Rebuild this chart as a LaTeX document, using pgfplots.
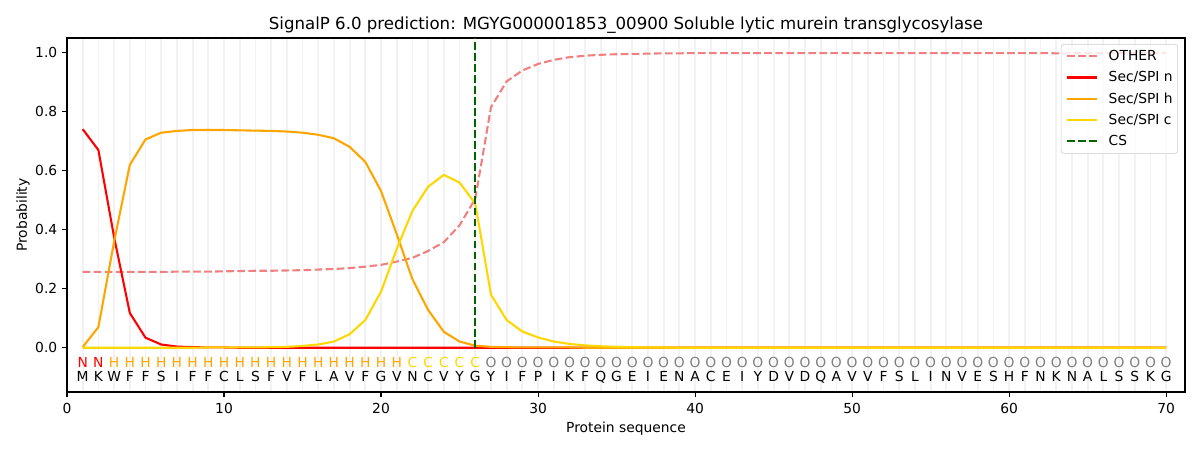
\documentclass[border=0pt]{standalone}
\usepackage{fontspec}
\setmainfont{DejaVu Sans}
\usepackage{pgfplots}
\pgfplotsset{compat=1.18}
\usepackage{pgfplotstable}
\definecolor{lightcoral}{HTML}{F08080}
\definecolor{mplorange}{HTML}{FFA500}
\definecolor{mplgold}{HTML}{FFD700}
\definecolor{darkgreen}{HTML}{006400}

\pgfplotstableread{
pos other n h c
1 0.257 0.741 0.002 0.000
2 0.257 0.670 0.070 0.000
3 0.257 0.375 0.360 0.000
4 0.257 0.118 0.620 0.000
5 0.257 0.034 0.706 0.000
6 0.257 0.011 0.729 0.000
7 0.258 0.004 0.735 0.000
8 0.258 0.002 0.738 0.000
9 0.258 0.001 0.738 0.001
10 0.259 0.001 0.738 0.001
11 0.260 0.000 0.737 0.001
12 0.261 0.000 0.736 0.001
13 0.261 0.000 0.735 0.002
14 0.262 0.000 0.733 0.003
15 0.263 0.000 0.729 0.006
16 0.265 0.000 0.722 0.011
17 0.267 0.000 0.710 0.021
18 0.270 0.000 0.681 0.046
19 0.275 0.000 0.630 0.094
20 0.281 0.000 0.531 0.190
21 0.292 0.000 0.385 0.335
22 0.305 0.000 0.232 0.464
23 0.328 0.000 0.128 0.546
24 0.358 0.000 0.054 0.586
25 0.415 0.000 0.021 0.560
26 0.505 0.000 0.007 0.489
27 0.815 0.000 0.003 0.180
28 0.903 0.000 0.002 0.094
29 0.940 0.000 0.001 0.055
30 0.962 0.000 0.001 0.035
31 0.976 0.000 0.001 0.021
32 0.985 0.000 0.001 0.013
33 0.990 0.000 0.000 0.008
34 0.993 0.000 0.000 0.005
35 0.995 0.000 0.000 0.003
36 0.996 0.000 0.000 0.002
37 0.997 0.000 0.000 0.001
38 0.998 0.000 0.000 0.001
39 0.998 0.000 0.000 0.000
40 0.999 0.000 0.000 0.000
41 0.999 0.000 0.000 0.000
42 0.999 0.000 0.000 0.000
43 0.999 0.000 0.000 0.000
44 0.999 0.000 0.000 0.000
45 0.999 0.000 0.000 0.000
46 0.999 0.000 0.000 0.000
47 0.999 0.000 0.000 0.000
48 0.999 0.000 0.000 0.000
49 0.999 0.000 0.000 0.000
50 0.999 0.000 0.000 0.000
51 0.999 0.000 0.000 0.000
52 0.999 0.000 0.000 0.000
53 0.999 0.000 0.000 0.000
54 0.999 0.000 0.000 0.000
55 0.999 0.000 0.000 0.000
56 0.999 0.000 0.000 0.000
57 0.999 0.000 0.000 0.000
58 0.999 0.000 0.000 0.000
59 0.999 0.000 0.000 0.000
60 0.999 0.000 0.000 0.000
61 0.999 0.000 0.000 0.000
62 0.999 0.000 0.000 0.000
63 0.998 0.000 0.000 0.000
64 0.998 0.000 0.000 0.000
65 0.999 0.000 0.000 0.000
66 0.999 0.000 0.000 0.000
67 0.999 0.000 0.000 0.000
68 0.999 0.000 0.000 0.000
69 0.999 0.000 0.000 0.000
70 0.999 0.000 0.000 0.000
}\probs

\pgfplotstableread{
x y aa
1 -0.116 M
2 -0.116 K
3 -0.116 W
4 -0.116 F
5 -0.116 F
6 -0.116 S
7 -0.116 I
8 -0.116 F
9 -0.116 F
10 -0.116 C
11 -0.116 L
12 -0.116 S
13 -0.116 F
14 -0.116 V
15 -0.116 F
16 -0.116 L
17 -0.116 A
18 -0.116 V
19 -0.116 F
20 -0.116 G
21 -0.116 V
22 -0.116 N
23 -0.116 C
24 -0.116 V
25 -0.116 Y
26 -0.116 G
27 -0.116 Y
28 -0.116 I
29 -0.116 F
30 -0.116 P
31 -0.116 I
32 -0.116 K
33 -0.116 F
34 -0.116 Q
35 -0.116 G
36 -0.116 E
37 -0.116 I
38 -0.116 E
39 -0.116 N
40 -0.116 A
41 -0.116 C
42 -0.116 E
43 -0.116 I
44 -0.116 Y
45 -0.116 D
46 -0.116 V
47 -0.116 D
48 -0.116 Q
49 -0.116 A
50 -0.116 V
51 -0.116 V
52 -0.116 F
53 -0.116 S
54 -0.116 L
55 -0.116 I
56 -0.116 N
57 -0.116 V
58 -0.116 E
59 -0.116 S
60 -0.116 H
61 -0.116 F
62 -0.116 N
63 -0.116 K
64 -0.116 N
65 -0.116 A
66 -0.116 L
67 -0.116 S
68 -0.116 S
69 -0.116 K
70 -0.116 G
}\aatab

\pgfplotstableread{
x y l
1 -0.066 N
2 -0.066 N
}\ntab
\pgfplotstableread{
x y l
3 -0.066 H
4 -0.066 H
5 -0.066 H
6 -0.066 H
7 -0.066 H
8 -0.066 H
9 -0.066 H
10 -0.066 H
11 -0.066 H
12 -0.066 H
13 -0.066 H
14 -0.066 H
15 -0.066 H
16 -0.066 H
17 -0.066 H
18 -0.066 H
19 -0.066 H
20 -0.066 H
21 -0.066 H
}\htab
\pgfplotstableread{
x y l
22 -0.066 C
23 -0.066 C
24 -0.066 C
25 -0.066 C
26 -0.066 C
}\ctab
\pgfplotstableread{
x y l
27 -0.066 O
28 -0.066 O
29 -0.066 O
30 -0.066 O
31 -0.066 O
32 -0.066 O
33 -0.066 O
34 -0.066 O
35 -0.066 O
36 -0.066 O
37 -0.066 O
38 -0.066 O
39 -0.066 O
40 -0.066 O
41 -0.066 O
42 -0.066 O
43 -0.066 O
44 -0.066 O
45 -0.066 O
46 -0.066 O
47 -0.066 O
48 -0.066 O
49 -0.066 O
50 -0.066 O
51 -0.066 O
52 -0.066 O
53 -0.066 O
54 -0.066 O
55 -0.066 O
56 -0.066 O
57 -0.066 O
58 -0.066 O
59 -0.066 O
60 -0.066 O
61 -0.066 O
62 -0.066 O
63 -0.066 O
64 -0.066 O
65 -0.066 O
66 -0.066 O
67 -0.066 O
68 -0.066 O
69 -0.066 O
70 -0.066 O
}\otab

\begin{document}
\begin{tikzpicture}
\path[use as bounding box] (-48.24bp,-41.76bp) rectangle (815.76bp,282.24bp);
\begin{axis}[
  at={(0,0)}, anchor=south west,
  scale only axis, width=804.96bp, height=254.88bp,
  xmin=0, xmax=71.2, ymin=-0.15, ymax=1.05,
  axis line style={line width=0.8bp},
  every tick/.style={line width=0.8bp, black},
  tick align=outside, major tick length=3.5bp, minor tick length=0bp,
  xtick pos=left, ytick pos=left,
  xtick={0,10,...,70},
  ytick={0,0.2,...,1.0},
  minor xtick={1,2,...,70},
  xminorgrids=true,
  minor grid style={line width=1.3bp, color=black!5},
  yticklabel style={/pgf/number format/.cd, fixed, fixed zerofill, precision=1},
  /pgf/number format/assume math mode=true,
  ticklabel style={font=\fontsize{10}{12}\selectfont},
  xticklabel style={yshift=-1bp},
  every axis title shift=0pt,
  title={SignalP 6.0 prediction: MGYG000001853\_00900 Soluble lytic murein transglycosylase},
  title style={at={(axis description cs:0.5,1.0254)}, anchor=base, yshift=0pt, inner sep=0pt, font=\fontsize{12}{14}\selectfont},
  xlabel={Protein sequence},
  xlabel style={at={(axis description cs:0.5,-0.113)}, anchor=base, inner sep=0pt, font=\fontsize{10}{12}\selectfont},
  ylabel={Probability},
  ylabel style={at={(axis description cs:-0.0358,0.5)}, anchor=base, inner sep=0pt, font=\fontsize{10}{12}\selectfont},
  legend style={at={(axis description cs:0.9937,0.983)}, anchor=north east,
    draw=black!20, rounded corners=2bp, fill=white, fill opacity=0.8, text opacity=1,
    font=\fontsize{10}{12}\selectfont, row sep=2.4bp, column sep=8bp,
    inner xsep=3.6bp, inner ysep=2.2bp,
    nodes={inner xsep=0pt}},
  legend cell align=left,
  legend image code/.code={\draw[#1] (0bp,0bp) -- (21.2bp,0bp);},
]
\addplot[lightcoral, line width=1.5bp, dash pattern=on 5.55bp off 2.4bp] table[x=pos, y=other] {\probs};
\addlegendentry{OTHER}
\addplot[red, line width=1.5bp] table[x=pos, y=n] {\probs};
\addlegendentry{Sec/SPI n}
\addplot[mplorange, line width=1.5bp] table[x=pos, y=h] {\probs};
\addlegendentry{Sec/SPI h}
\addplot[mplgold, line width=1.5bp] table[x=pos, y=c] {\probs};
\addlegendentry{Sec/SPI c}
\addplot[darkgreen, line width=1.5bp, dash pattern=on 5.55bp off 2.4bp] coordinates {(26,0) (26,1.05)};
\addlegendentry{CS}

\addplot[draw=none, mark=none, forget plot, nodes near coords, point meta=explicit symbolic,
  nodes near coords style={anchor=base, inner sep=0pt, text=black, font=\fontsize{10}{12}\selectfont}]
  table[x=x, y=y, meta=aa] {\aatab};
\addplot[draw=none, mark=none, forget plot, nodes near coords, point meta=explicit symbolic,
  nodes near coords style={anchor=base, inner sep=0pt, text=red, font=\fontsize{10}{12}\selectfont}]
  table[x=x, y=y, meta=l] {\ntab};
\addplot[draw=none, mark=none, forget plot, nodes near coords, point meta=explicit symbolic,
  nodes near coords style={anchor=base, inner sep=0pt, text=mplorange, font=\fontsize{10}{12}\selectfont}]
  table[x=x, y=y, meta=l] {\htab};
\addplot[draw=none, mark=none, forget plot, nodes near coords, point meta=explicit symbolic,
  nodes near coords style={anchor=base, inner sep=0pt, text=mplgold, font=\fontsize{10}{12}\selectfont}]
  table[x=x, y=y, meta=l] {\ctab};
\addplot[draw=none, mark=none, forget plot, nodes near coords, point meta=explicit symbolic,
  nodes near coords style={anchor=base, inner sep=0pt, text=gray, font=\fontsize{10}{12}\selectfont}]
  table[x=x, y=y, meta=l] {\otab};
\end{axis}
\end{tikzpicture}
\end{document}
